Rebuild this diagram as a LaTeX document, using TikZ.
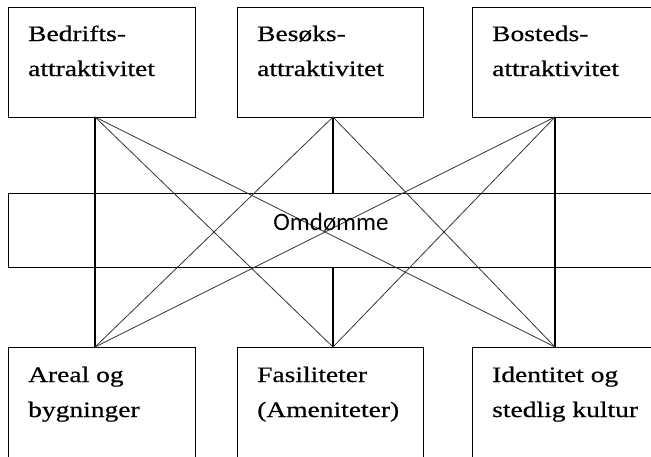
\documentclass[tikz,border=0pt]{standalone}
\usepackage{fontspec}
\setmainfont{Liberation Serif}[FakeStretch=1.25, RawFeature={embolden=0.6}]
\newfontfamily\omfont{Carlito}
\usetikzlibrary{positioning}

\begin{document}
\begin{tikzpicture}[x=1pt, y=-1pt,
    box/.style={draw, line width=1.2pt, anchor=north west, inner sep=0, minimum width=187pt, minimum height=110pt},
    boxtext/.style={anchor=base west, align=left, inner sep=0, font=\fontsize{22}{35}\selectfont},
    link/.style={line width=0.8pt, black!80}]
    \useasboundingbox (0,0) rectangle (651,456);
    \clip (0,0) rectangle (651,456);

    % Attractiveness boxes
    \node[box] (bedrift) at (8,7) {};
    \node[box, minimum width=186pt] (besok) at (237,7) {};
    \node[box] (bosted) at (472,7) {};

    % Reputation band
    \node[draw, line width=1.2pt, anchor=north west, inner sep=0, minimum width=700pt, minimum height=74pt] (band) at (8,193) {};

    % Factor boxes
    \node[box, minimum height=130pt] (areal) at (8,347) {};
    \node[box, minimum width=186pt, minimum height=130pt] (fasil) at (237,347) {};
    \node[box, minimum height=130pt] (ident) at (472,347) {};

    % Attachment points
    \coordinate (bedriftfoot) at (95,117);
    \coordinate (besokfoot) at (333,117);
    \coordinate (bostedfoot) at (555,117);
    \coordinate (arealtop) at (95,347);
    \coordinate (fasiltop) at (333,347);
    \coordinate (identtop) at (555,347);

    % Vertical links
    \draw[line width=1.2pt] (bedriftfoot) -- (arealtop);
    \draw[line width=1.2pt] (bostedfoot) -- (identtop);
    \draw[line width=1.2pt] (besokfoot) -- (besokfoot |- band.north);
    \draw[line width=1.2pt] (fasiltop |- band.south) -- (fasiltop);

    % Crossing links
    \draw[link] (bedriftfoot) -- (fasiltop);
    \draw[link] (bedriftfoot) -- (identtop);
    \draw[link] (besokfoot) -- (arealtop);
    \draw[link] (besokfoot) -- (identtop);
    \draw[link] (bostedfoot) -- (arealtop);
    \draw[link] (bostedfoot) -- (fasiltop);

    % Labels (base = last line)
    \node[boxtext] (bedrifttext) at (28,76) {Bedrifts-\\attraktivitet};
    \node[boxtext] (besoktext) at (257,76) {Besøks-\\attraktivitet};
    \node[boxtext] (bostedtext) at (492,76) {Bosteds-\\attraktivitet};
    \node[anchor=base, inner sep=0, font=\omfont\fontsize{25}{25}\selectfont] (omdomme) at (331,230) {Omdømme};
    \node[boxtext] (arealtext) at (28,417) {Areal og\\bygninger};
    \node[boxtext] (fasiltext) at (257,417) {Fasiliteter\\(Ameniteter)};
    \node[boxtext] (identtext) at (492,417) {Identitet og\\stedlig kultur};
\end{tikzpicture}
\end{document}
